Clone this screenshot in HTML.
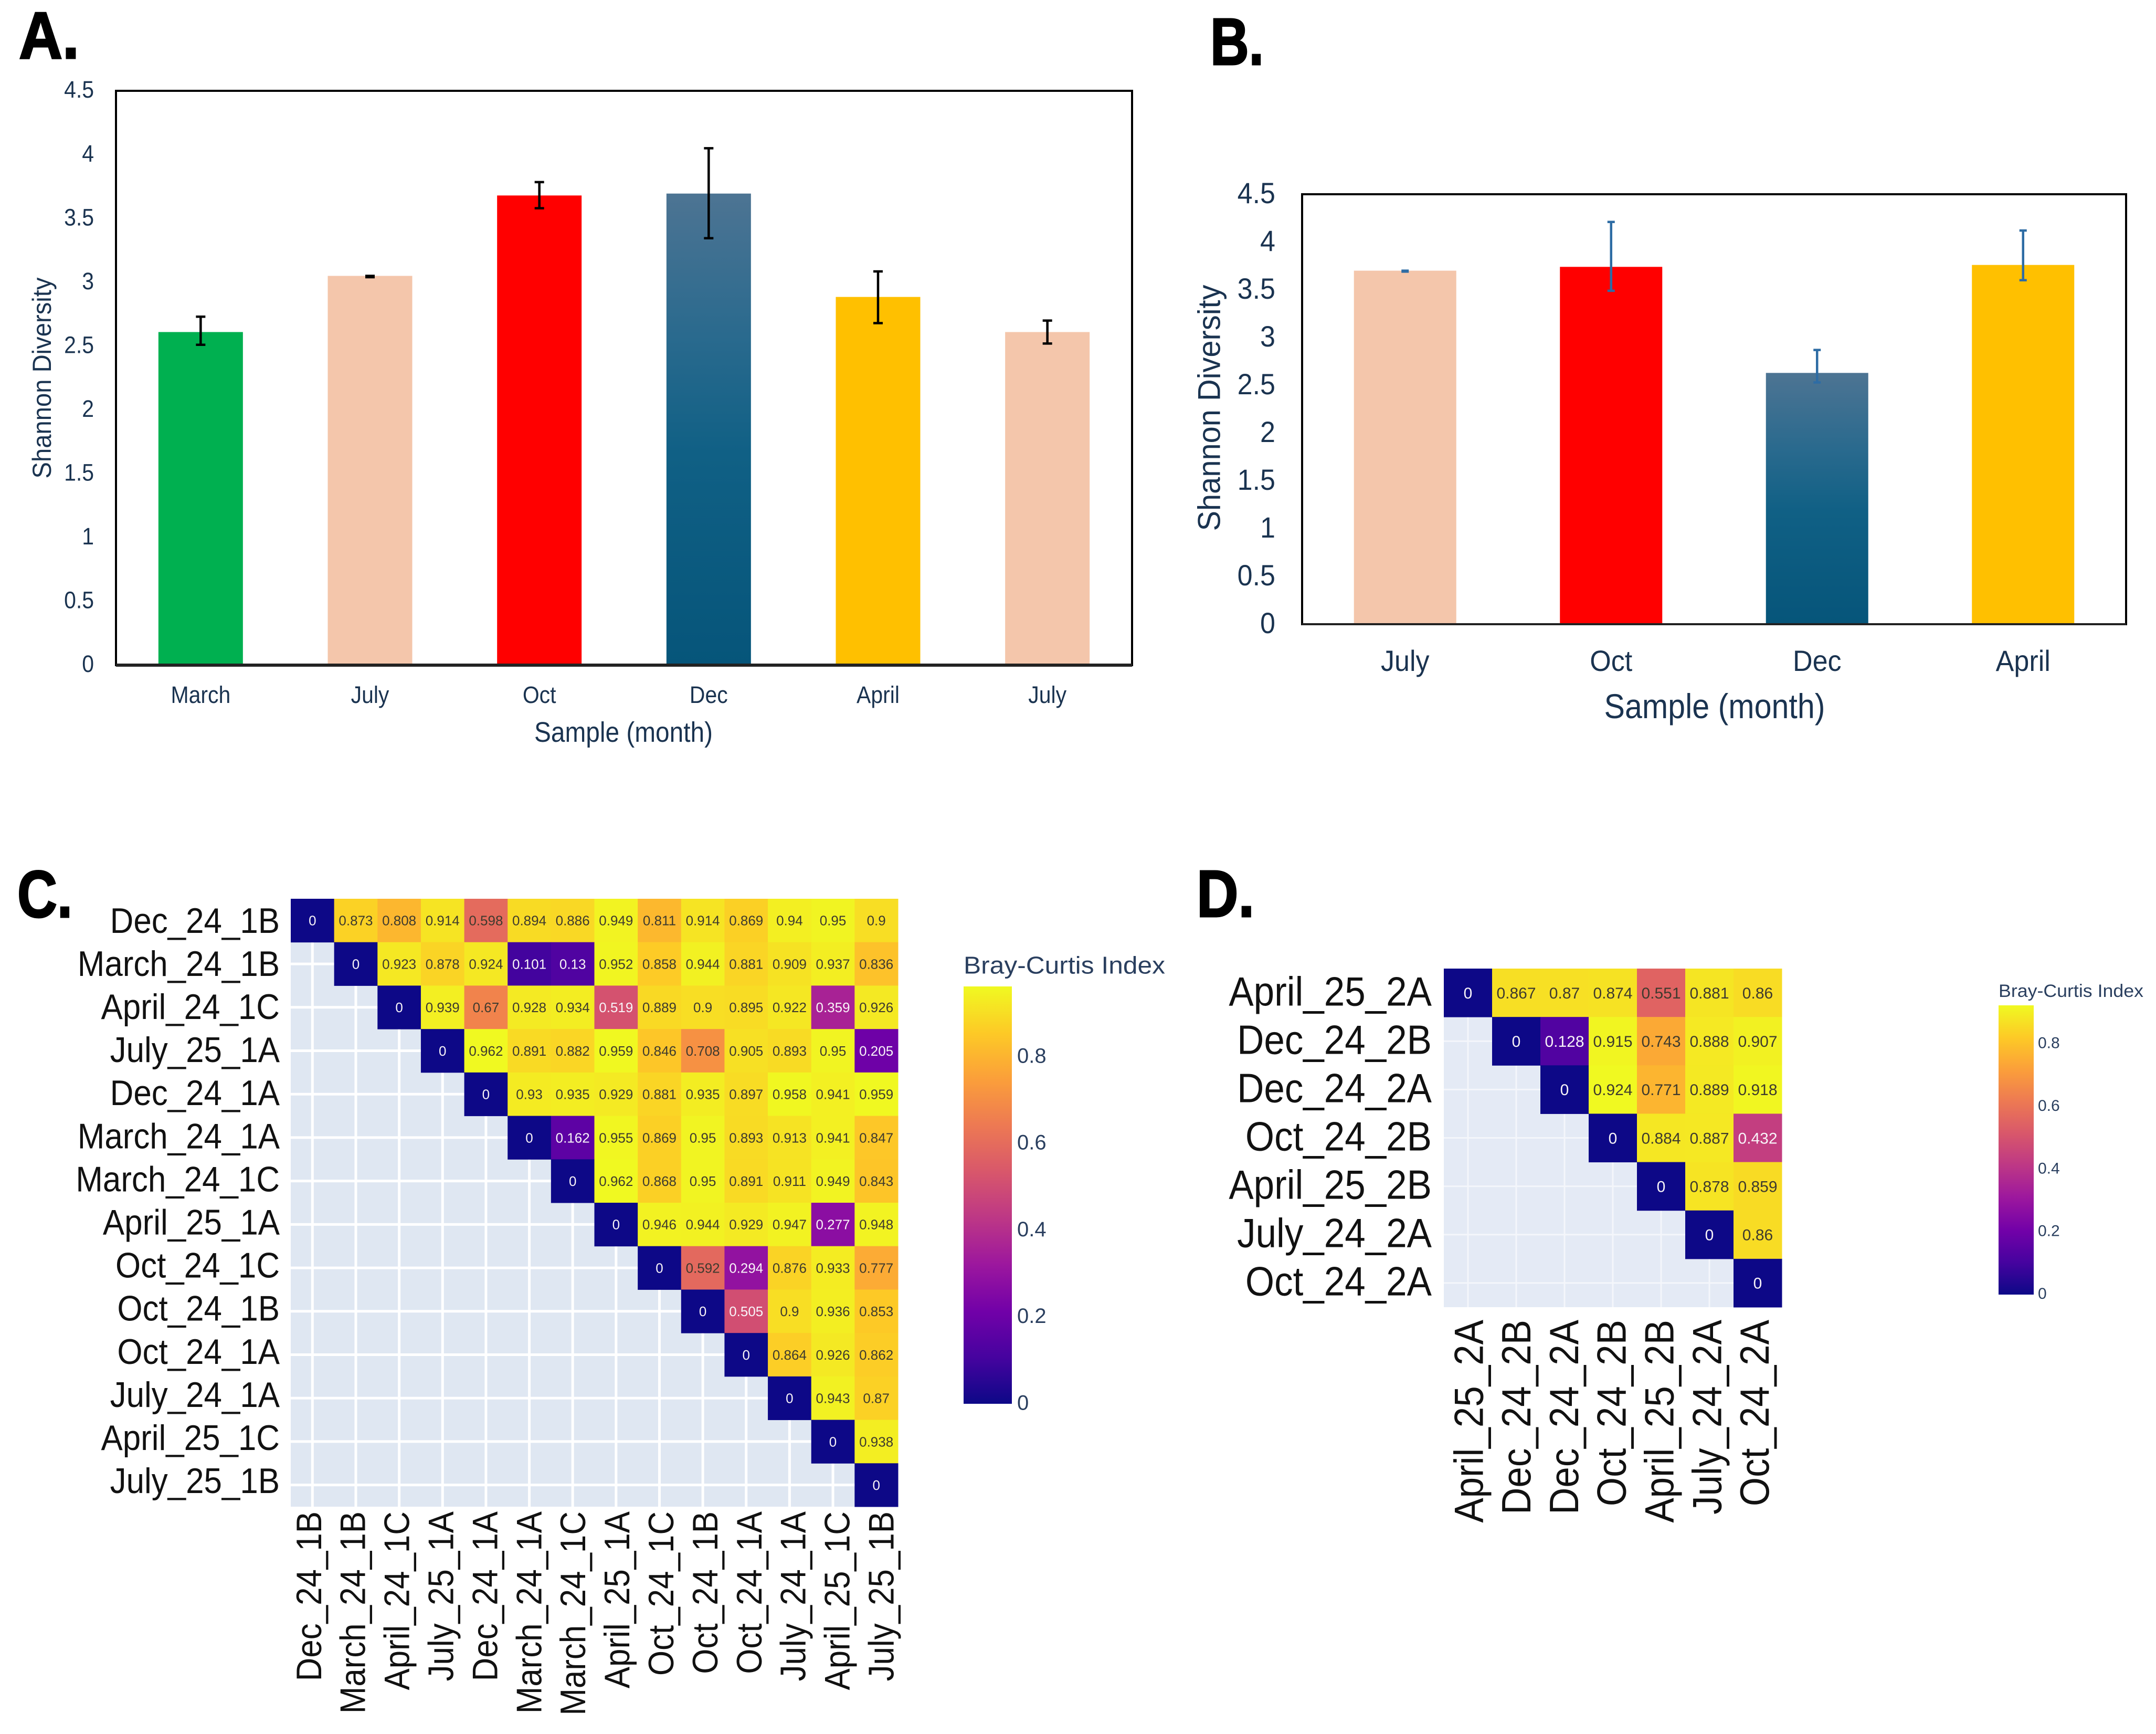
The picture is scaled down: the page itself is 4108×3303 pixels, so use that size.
<!DOCTYPE html>
<html lang="en">
<head>
<meta charset="utf-8">
<title>Shannon diversity and Bray-Curtis heatmaps</title>
<style>
html,body{margin:0;padding:0;background:#fff;width:4108px;height:3303px;overflow:hidden}
svg{display:block}
text{font-family:"Liberation Sans",Arial,sans-serif}
</style>
</head>
<body>
<svg id="figure" xmlns="http://www.w3.org/2000/svg" width="4108" height="3303" viewBox="0 0 4108 3303">
  <defs>
    <linearGradient id="decGradient" x1="0" y1="0" x2="0" y2="1">
      <stop offset="0" stop-color="#4d7493"/>
      <stop offset="0.3" stop-color="#2a6a8e"/>
      <stop offset="0.55" stop-color="#106085"/>
      <stop offset="1" stop-color="#06557a"/>
    </linearGradient>
  </defs>
  <rect width="4108" height="3303" fill="#fff"/>
  <text x="36" y="111" font-size="126" font-weight="700" stroke="#000" stroke-width="3" textLength="115" lengthAdjust="spacingAndGlyphs">A.</text>
  <text x="2306" y="123" font-size="126" font-weight="700" stroke="#000" stroke-width="3" textLength="102" lengthAdjust="spacingAndGlyphs">B.</text>
  <text x="33" y="1747" font-size="126" font-weight="700" stroke="#000" stroke-width="3" textLength="105" lengthAdjust="spacingAndGlyphs">C.</text>
  <text x="2280" y="1746" font-size="126" font-weight="700" stroke="#000" stroke-width="3" textLength="110" lengthAdjust="spacingAndGlyphs">D.</text>
  <g id="chartA"></g>
  <g id="chartB"></g>
  <g id="heatC"></g>
  <g id="heatD"></g>
</svg>
<script>
// ---- Panel A data ----
const monthsA = ["March", "July", "Oct", "Dec", "April", "July"];
const valuesA = [2.61, 3.05, 3.68, 3.695, 2.885, 2.61];
const errLowA = [2.51, 3.04, 3.58, 3.345, 2.68, 2.52];
const errHighA = [2.73, 3.05, 3.785, 4.05, 3.085, 2.70];
const fillsA = ["#00b050", "#f4c6ab", "#ff0000", "url(#decGradient)", "#ffc000", "#f4c6ab"];
// ---- Panel B data ----
const monthsB = ["July", "Oct", "Dec", "April"];
const valuesB = [3.70, 3.74, 2.63, 3.76];
const errLowB = [3.69, 3.49, 2.53, 3.60];
const errHighB = [3.70, 4.21, 2.87, 4.12];
const fillsB = ["#f4c6ab", "#ff0000", "url(#decGradient)", "#ffc000"];
// ---- Shared bar axis ----
const yTickValues = [0, 0.5, 1, 1.5, 2, 2.5, 3, 3.5, 4, 4.5];
// ---- Panel C data ----
const samplesC = ["Dec_24_1B", "March_24_1B", "April_24_1C", "July_25_1A", "Dec_24_1A", "March_24_1A", "March_24_1C", "April_25_1A", "Oct_24_1C", "Oct_24_1B", "Oct_24_1A", "July_24_1A", "April_25_1C", "July_25_1B"];
const matrixC = [
  [0, 0.873, 0.808, 0.914, 0.598, 0.894, 0.886, 0.949, 0.811, 0.914, 0.869, 0.94, 0.95, 0.9],
  [0, 0.923, 0.878, 0.924, 0.101, 0.13, 0.952, 0.858, 0.944, 0.881, 0.909, 0.937, 0.836],
  [0, 0.939, 0.67, 0.928, 0.934, 0.519, 0.889, 0.9, 0.895, 0.922, 0.359, 0.926],
  [0, 0.962, 0.891, 0.882, 0.959, 0.846, 0.708, 0.905, 0.893, 0.95, 0.205],
  [0, 0.93, 0.935, 0.929, 0.881, 0.935, 0.897, 0.958, 0.941, 0.959],
  [0, 0.162, 0.955, 0.869, 0.95, 0.893, 0.913, 0.941, 0.847],
  [0, 0.962, 0.868, 0.95, 0.891, 0.911, 0.949, 0.843],
  [0, 0.946, 0.944, 0.929, 0.947, 0.277, 0.948],
  [0, 0.592, 0.294, 0.876, 0.933, 0.777],
  [0, 0.505, 0.9, 0.936, 0.853],
  [0, 0.864, 0.926, 0.862],
  [0, 0.943, 0.87],
  [0, 0.938],
  [0]
];
// ---- Panel D data ----
const samplesD = ["April_25_2A", "Dec_24_2B", "Dec_24_2A", "Oct_24_2B", "April_25_2B", "July_24_2A", "Oct_24_2A"];
const matrixD = [
  [0, 0.867, 0.87, 0.874, 0.551, 0.881, 0.86],
  [0, 0.128, 0.915, 0.743, 0.888, 0.907],
  [0, 0.924, 0.771, 0.889, 0.918],
  [0, 0.884, 0.887, 0.432],
  [0, 0.878, 0.859],
  [0, 0.86],
  [0]
];
const colorbarTicks = [0, 0.2, 0.4, 0.6, 0.8];
const plasmaStops = ["#0d0887", "#46039f", "#7201a8", "#9c179e", "#bd3786", "#d8576b", "#ed7953", "#fb9f3a", "#fdca26", "#f0f921"];

const NS = "http://www.w3.org/2000/svg";
function mk(tag, attrs, parent, content) {
  const el = document.createElementNS(NS, tag);
  for (const k in attrs) el.setAttribute(k, attrs[k]);
  if (content !== undefined) el.textContent = content;
  parent.appendChild(el);
  return el;
}
function plasma(t) {
  const u = Math.max(0, Math.min(1, t)) * (plasmaStops.length - 1);
  const i = Math.min(plasmaStops.length - 2, Math.floor(u));
  const f = u - i;
  const hex = s => [1, 3, 5].map(p => parseInt(s.substr(p, 2), 16));
  const a = hex(plasmaStops[i]);
  const b = hex(plasmaStops[i + 1]);
  return "rgb(" + a.map((c, k) => Math.round(c + (b[k] - c) * f)).join(",") + ")";
}

function drawBars(root, opt, months, values, errLow, errHigh, fills) {
  const yScale = v => opt.bottom - (v / 4.5) * (opt.bottom - opt.top);
  const band = (opt.right - opt.left) / months.length;
  const xScale = i => opt.left + (i + 0.5) * band;

  months.forEach((m, i) => {
    const bar = mk("rect", {x: xScale(i) - opt.barW / 2, y: yScale(values[i]), width: opt.barW, height: yScale(0) - yScale(values[i]), fill: fills[i]}, root);
    
    
  });

  const frame = mk("rect", {x: opt.left, y: opt.top, width: opt.right - opt.left, height: opt.bottom - opt.top, fill: "none", stroke: "#000", "stroke-width": 4}, root);
  
  

  const baseLine = mk("line", {x1: opt.left, x2: opt.right, y1: opt.bottom, y2: opt.bottom, stroke: "#222", "stroke-width": opt.baseW}, root);
  
  

  months.forEach((m, i) => {
    const cx = xScale(i);
    const d = "M" + cx + " " + yScale(errHigh[i]) + "V" + yScale(errLow[i]) +
      "M" + (cx - opt.cap) + " " + yScale(errHigh[i]) + "H" + (cx + opt.cap) +
      "M" + (cx - opt.cap) + " " + yScale(errLow[i]) + "H" + (cx + opt.cap);
    const err = mk("path", {d: d, stroke: opt.errColor, "stroke-width": 4.5, fill: "none"}, root);
    
    

    const lab = mk("text", {transform: "translate(" + cx + " " + opt.xLabelY + ") scale(" + opt.tickScale + " 1)", "text-anchor": "middle", "font-size": opt.tickSize, fill: "#1a3350"}, root, m);
    
    
  });

  yTickValues.forEach(v => {
    const lab = mk("text", {transform: "translate(" + opt.yLabelX + " " + (yScale(v) - 3) + ") scale(" + opt.tickScale + " 1)", dy: "0.36em", "text-anchor": "end", "font-size": opt.tickSize, fill: "#1a3350"}, root, String(v));
    
    
  });

  const xTitle = mk("text", {x: opt.xTitleX, y: opt.xTitleY, "text-anchor": "middle", "font-size": opt.titleSize, fill: "#1a3350", textLength: opt.xTitleLen, lengthAdjust: "spacingAndGlyphs"}, root, "Sample (month)");
  
  

  const yTitle = mk("text", {transform: "translate(" + opt.yTitleX + " " + opt.yTitleY + ") rotate(-90)", "text-anchor": "middle", dy: "0.36em", "font-size": opt.yTitleSize, fill: "#1a3350", textLength: opt.yTitleLen, lengthAdjust: "spacingAndGlyphs"}, root, "Shannon Diversity");
  
  
}

function drawHeat(root, opt, samples, matrix) {
  const n = samples.length;
  const cw = (opt.right - opt.left) / n;
  const ch = (opt.bottom - opt.top) / n;
  const xScale = i => opt.left + i * cw;
  const yScale = i => opt.top + i * ch;
  const zmax = Math.max(...matrix.flat());

  const bg = mk("rect", {x: opt.left, y: opt.top, width: opt.right - opt.left, height: opt.bottom - opt.top, fill: opt.bg}, root);
  
  

  samples.forEach((s, i) => {
    const gx = mk("line", {x1: xScale(i) + cw / 2, x2: xScale(i) + cw / 2, y1: opt.top, y2: opt.bottom, stroke: opt.gridColor, "stroke-width": opt.gridW}, root);
    
    
    const gy = mk("line", {x1: opt.left, x2: opt.right, y1: yScale(i) + ch / 2, y2: yScale(i) + ch / 2, stroke: opt.gridColor, "stroke-width": opt.gridW}, root);
    
    
  });

  matrix.forEach((row, r) => {
    row.forEach((v, k) => {
      const c = r + k;
      const cell = mk("rect", {x: xScale(c), y: yScale(r), width: cw + 0.5, height: ch + 0.5, fill: plasma(v / zmax)}, root);
      
      
      const light = v / zmax < 0.58;
      const val = mk("text", {x: xScale(c) + cw / 2, y: yScale(r) + ch / 2, dy: "0.36em", "text-anchor": "middle", "font-size": opt.cellSize, fill: light ? "#f8f4f8" : "#3e3a2e"}, root, String(v));
      
      
    });
  });

  samples.forEach((s, i) => {
    const ly = opt.yLabelStart + i * opt.yLabelPitch;
    const yl = mk("text", {transform: "translate(" + (opt.left - opt.labelGap) + " " + ly + ") scale(" + opt.labelScale + " 1)", dy: "0.35em", "text-anchor": "end", "font-size": opt.labelSize, fill: "#111"}, root, s);
    
    
    const lx = opt.xLabelStart + i * opt.xLabelPitch;
    const xl = mk("text", {transform: "translate(" + lx + " " + opt.xLabelTop + ") rotate(-90) scale(" + opt.labelScale + " 1)", dy: "0.35em", "text-anchor": "end", "font-size": opt.labelSize, fill: "#111"}, root, s);
    
    
  });

  // colour bar
  const cbScale = v => opt.cbBottom - (v / zmax) * (opt.cbBottom - opt.cbTop);
  const grad = mk("linearGradient", {id: opt.gradId, x1: 0, y1: 1, x2: 0, y2: 0}, root);
  plasmaStops.forEach((col, i) => {
    mk("stop", {offset: i / (plasmaStops.length - 1), "stop-color": col}, grad);
  });
  const cb = mk("rect", {x: opt.cbX, y: opt.cbTop, width: opt.cbW, height: opt.cbBottom - opt.cbTop, fill: "url(#" + opt.gradId + ")"}, root);
  
  
  colorbarTicks.forEach(t => {
    const lab = mk("text", {x: opt.cbX + opt.cbW + opt.cbGap, y: cbScale(t) - 3, dy: "0.36em", "font-size": opt.cbSize, fill: "#2a3f5f"}, root, String(t));
    
    
  });
  const title = mk("text", {x: opt.cbX, y: opt.cbTitleY, dy: "0.36em", "font-size": opt.cbTitleSize, fill: "#2a3f5f", textLength: opt.cbTitleLen, lengthAdjust: "spacingAndGlyphs"}, root, "Bray-Curtis Index");
  
  
}

drawBars(document.getElementById("chartA"),
  {left: 221, right: 2157, top: 173, bottom: 1267, barW: 161, cap: 9, errColor: "#000", baseW: 6, tickSize: 45, tickScale: 0.91, yLabelX: 179, xLabelY: 1339, xTitleX: 1188, xTitleY: 1413, xTitleLen: 340, titleSize: 54, yTitleX: 79, yTitleY: 720, yTitleLen: 383, yTitleSize: 50},
  monthsA, valuesA, errLowA, errHighA, fillsA);
drawBars(document.getElementById("chartB"),
  {left: 2481, right: 4051, top: 370, bottom: 1189, barW: 195, cap: 7, errColor: "#2e6ca4", baseW: 4, tickSize: 56, tickScale: 0.93, yLabelX: 2430, xLabelY: 1278, xTitleX: 3267, xTitleY: 1368, xTitleLen: 421, titleSize: 66, yTitleX: 2303, yTitleY: 777, yTitleLen: 469, yTitleSize: 60},
  monthsB, valuesB, errLowB, errHighB, fillsB);
drawHeat(document.getElementById("heatC"),
  {left: 554, right: 1711, top: 1712, bottom: 2870, bg: "#dfe7f2", gridColor: "#fff", gridW: 5, cellSize: 26, labelSize: 68, labelScale: 0.91, labelGap: 21, yLabelStart: 1753, yLabelPitch: 82.1, xLabelStart: 588, xLabelPitch: 83.9, xLabelTop: 2879, gradId: "cbGradC", cbX: 1836, cbW: 92, cbTop: 1879, cbBottom: 2674, cbGap: 10, cbSize: 40, cbTitleY: 1838, cbTitleSize: 46, cbTitleLen: 384},
  samplesC, matrixC);
drawHeat(document.getElementById("heatD"),
  {left: 2751, right: 3395, top: 1845, bottom: 2490, bg: "#e4eaf5", gridColor: "#f4f6fb", gridW: 3, cellSize: 30, labelSize: 78, labelScale: 0.91, labelGap: 23, yLabelStart: 1888, yLabelPitch: 92, xLabelStart: 2798, xLabelPitch: 90.8, xLabelTop: 2514, gradId: "cbGradD", cbX: 3808, cbW: 67, cbTop: 1915, cbBottom: 2466, cbGap: 8, cbSize: 30, cbTitleY: 1887, cbTitleSize: 34, cbTitleLen: 276},
  samplesD, matrixD);
</script>
</body>
</html>
